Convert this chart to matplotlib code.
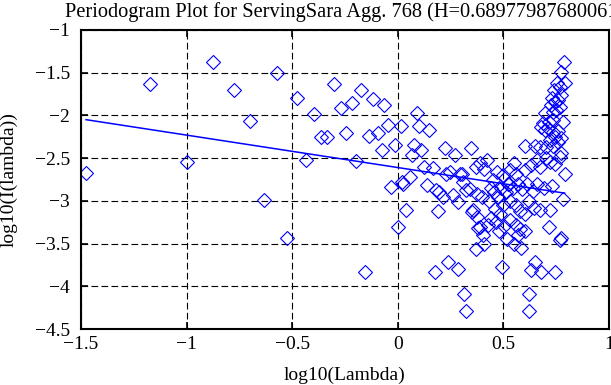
import matplotlib
matplotlib.use("Agg")
import matplotlib.pyplot as plt
import numpy as np

# ---- data ----
log_lambda = [
    -1.476, -1.173, -1.000, -0.874, -0.777, -0.700, -0.632, -0.574, -0.524, -0.479,
    -0.435, -0.399, -0.366, -0.334, -0.300, -0.271, -0.246, -0.219, -0.199, -0.176,
    -0.156, -0.136, -0.117, -0.093, -0.077, -0.065, -0.046, -0.030, -0.013,
    0.000, 0.013, 0.018, 0.026, 0.040, 0.056, 0.065, 0.076, 0.093, 0.102,
    0.112, 0.123, 0.136, 0.146, 0.167, 0.175, 0.183, 0.190, 0.196, 0.213,
    0.223, 0.230, 0.238, 0.246, 0.261, 0.272, 0.284, 0.286, 0.294, 0.302,
    0.309, 0.313, 0.322, 0.325, 0.341, 0.346, 0.349, 0.357, 0.370, 0.372,
    0.373, 0.375, 0.380, 0.388, 0.390, 0.397, 0.403, 0.407, 0.410, 0.420,
    0.426, 0.430, 0.440, 0.440, 0.450, 0.455, 0.460, 0.465, 0.470, 0.475,
    0.480, 0.485, 0.490, 0.494, 0.500, 0.500, 0.505, 0.510, 0.515, 0.520,
    0.786, 0.775, 0.790, 0.754, 0.767, 0.739, 0.775, 0.732, 0.759, 0.743,
    0.727, 0.767, 0.751, 0.696, 0.735, 0.783, 0.688, 0.716, 0.735, 0.680,
    0.696, 0.711, 0.735, 0.759, 0.743, 0.775, 0.720, 0.759, 0.601, 0.649,
    0.672, 0.704, 0.735,
    0.767, 0.743, 0.790, 0.775, 0.783,
    0.550, 0.530, 0.560, 0.600, 0.630, 0.660, 0.675, 0.700, 0.720,
    0.525, 0.545, 0.570, 0.590, 0.610, 0.640, 0.660, 0.690, 0.730,
    0.530, 0.560, 0.580, 0.620, 0.645, 0.672, 0.600,
    0.720, 0.716, 0.775,
    0.530, 0.560, 0.580, 0.550, 0.585, 0.570, 0.600, 0.767,
    0.649, 0.633, 0.680, 0.743, 0.620, 0.620,
]
log_periodogram = [
    -2.673, -1.629, -2.543, -1.379, -1.703, -2.063, -2.985, -1.500, -3.430, -1.797,
    -2.516, -1.981, -2.250, -2.258, -1.637, -1.918, -2.211, -1.860, -2.536, -1.703,
    -3.832, -2.243, -1.813, -2.204, -2.399, -1.875, -2.114, -2.836, -2.348,
    -3.305, -2.125, -2.777, -2.800, -3.112, -2.715, -2.465, -2.345, -1.977, -2.125,
    -2.407, -2.602, -2.817, -2.175, -2.621, -3.832, -2.876, -3.120, -2.895, -2.950,
    -2.379, -2.680, -3.716, -2.660, -2.930, -2.460, -3.010, -3.797, -2.680, -2.688,
    -2.780, -4.095, -4.291, -2.876, -2.856, -2.379, -3.130, -3.110, -2.600, -3.560,
    -2.914, -3.190, -3.313, -3.305, -2.560, -2.950, -3.400, -3.509, -2.630, -2.520,
    -3.285, -3.000, -3.200, -2.850, -2.750, -2.900, -3.100, -3.250, -2.660, -2.950,
    -3.350, -3.150, -2.850, -3.775, -3.050, -2.700, -3.300, -2.900, -3.450, -2.800,
    -1.379, -1.496, -1.617, -1.625, -1.664, -1.703, -1.762, -1.801, -1.820, -1.840,
    -1.879, -1.898, -1.938, -1.969, -1.957, -2.075, -2.087, -2.075, -2.055, -2.140,
    -2.170, -2.150, -2.190, -2.180, -2.250, -2.270, -2.290, -2.310, -2.360, -2.360,
    -2.370, -2.370, -2.360,
    -2.485, -2.563, -2.680, -2.445, -2.973,
    -2.560, -2.640, -2.680, -2.640, -2.580, -2.520, -2.600, -2.500, -2.550,
    -2.800, -2.850, -2.800, -2.860, -2.800, -2.880, -2.800, -2.850, -2.830,
    -3.000, -3.050, -3.120, -3.000, -3.080, -3.110, -3.150,
    -3.110, -3.305, -3.430,
    -3.220, -3.280, -3.325, -3.509, -3.548, -3.400, -3.350, -3.460,
    -3.715, -3.805, -3.830, -3.832, -4.095, -4.291,
]
hurst = 0.68977987680061
fit_intercept = -2.610
title_text = "Periodogram Plot for ServingSara Agg. 768 (H=0.68977987680061)"
x_ticks = [-1.5, -1, -0.5, 0, 0.5, 1]
y_ticks = [-4.5, -4, -3.5, -3, -2.5, -2, -1.5, -1]

# ---- figure ----
plt.rcParams['font.family'] = ['Liberation Serif', 'DejaVu Serif']
fig = plt.figure(figsize=(6.11, 3.85), dpi=100)
ax = fig.add_axes([81/611, 1-329/385, 528/611, 299/385])

x = np.array(log_lambda)
y = np.array(log_periodogram)
ax.plot(x, y, linestyle='none', marker='D', markersize=7,
        markerfacecolor='none', markeredgecolor='blue', markeredgewidth=0.8)

slope = 1 - 2*hurst
xl = np.array([x.min(), x.max()])
ax.plot(xl, fit_intercept + slope*xl, color='blue', linewidth=1.1)

ax.set_xlim(-1.5, 1)
ax.set_ylim(-4.5, -1)
ax.set_xticks(x_ticks)
ax.set_yticks(y_ticks)
ax.set_xticklabels(['\u22121.5', '\u22121', '\u22120.5', '0', '0.5', '1'])
ax.set_yticklabels(['\u22124.5', '\u22124', '\u22123.5', '\u22123', '\u22122.5', '\u22122', '\u22121.5', '\u22121'])
ax.grid(True, color='black', linestyle=(0, (6, 3)), linewidth=0.8)
ax.tick_params(direction='in', length=5, width=1.2, top=True, right=True, labelsize=14)
ax.tick_params(axis='x', pad=5)
ax.tick_params(axis='y', pad=8)
for s in ax.spines.values():
    s.set_linewidth(1.5)

ax.set_xlabel('log10(Lambda)', fontsize=14)
ax.xaxis.set_label_coords(0.5, (329-367)/299)
ax.set_ylabel('log10(I(lambda))', fontsize=14)
ax.yaxis.set_label_coords((18-81)/528, 0.5)
fig.text(65/611, 1-2/385, title_text, fontsize=14.7, ha='left', va='top')

fig.savefig('out.png', dpi=100)
